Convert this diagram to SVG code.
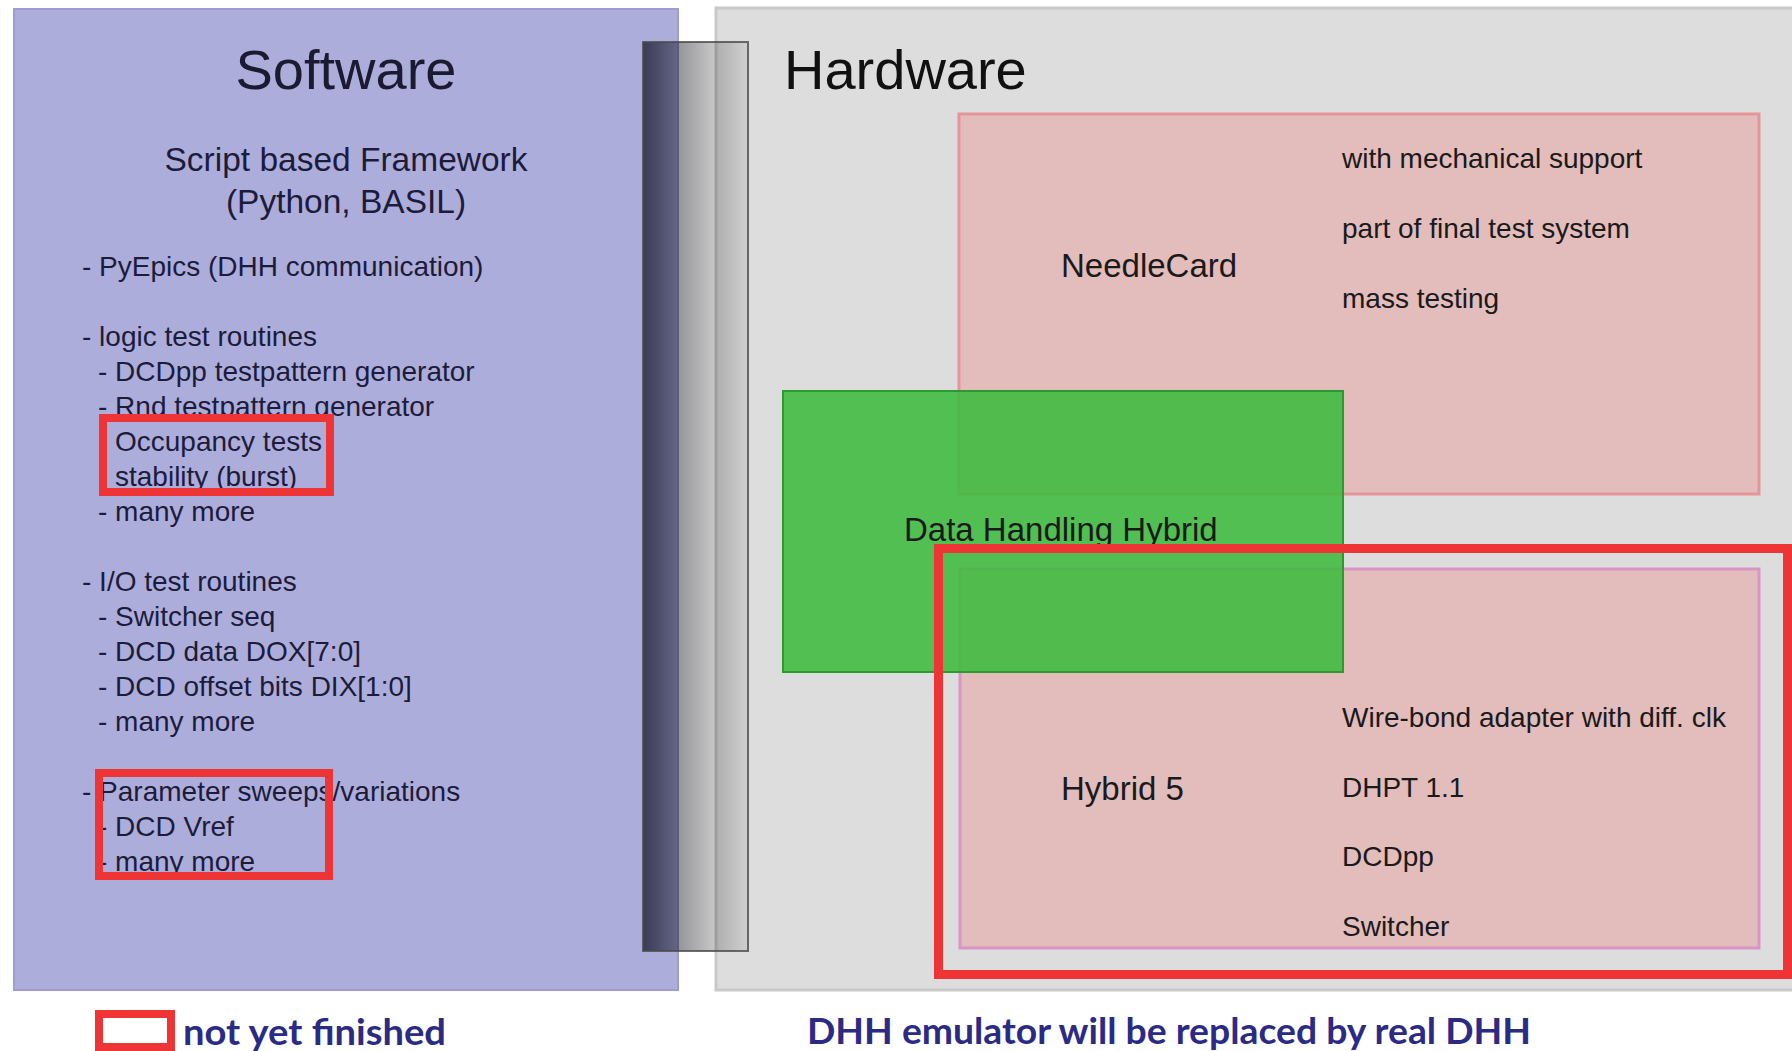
<svg xmlns="http://www.w3.org/2000/svg" width="1792" height="1051" viewBox="0 0 1792 1051">
  <defs>
    <linearGradient id="barShade" x1="0" y1="0" x2="1" y2="0">
      <stop offset="0" stop-color="#000010" stop-opacity="0.66"/>
      <stop offset="0.33" stop-color="#000010" stop-opacity="0.42"/>
      <stop offset="0.68" stop-color="#000000" stop-opacity="0.22"/>
      <stop offset="1" stop-color="#000000" stop-opacity="0.06"/>
    </linearGradient>
    <style>
      .sans { font-family: "Liberation Sans", Arial, Helvetica, sans-serif; }
      .title { font-size: 56px; }
      .sub { font-size: 33.5px; }
      .item { font-size: 28px; fill: #1c1c3a; }
      .hw { font-size: 28px; fill: #1a1a1a; }
      .label { font-size: 33px; fill: #1a1a1a; }
      .todo { fill: none; stroke: #ee3434; stroke-width: 8; }
      .card { fill: #e3bcbc; stroke-width: 3; }
      .note { font-family: Lato, "Liberation Sans", sans-serif; font-weight: 700; font-size: 36px; fill: #2b2b85; }
    </style>
  </defs>

  <rect width="1792" height="1051" fill="#ffffff"/>

  <!-- software column -->
  <g id="software" class="sans">
    <rect x="14" y="9" width="664" height="981" fill="#adaddc" stroke="#9c9cce" stroke-width="2"/>
    <text x="346" y="89" text-anchor="middle" class="title" fill="#1a1a30">Software</text>
    <text x="346" y="171" text-anchor="middle" class="sub" fill="#1c1c3a">Script based Framework</text>
    <text x="346" y="213" text-anchor="middle" class="sub" fill="#1c1c3a">(Python, BASIL)</text>
    <text x="82" y="276" class="item">- PyEpics (DHH communication)</text>
    <text x="82" y="346" class="item">- logic test routines</text>
    <text x="98" y="381" class="item">- DCDpp testpattern generator</text>
    <text x="98" y="416" class="item">- Rnd testpattern generator</text>
    <text x="115" y="451" class="item">Occupancy tests</text>
    <text x="115" y="486" class="item">stability (burst)</text>
    <text x="98" y="521" class="item">- many more</text>
    <text x="82" y="591" class="item">- I/O test routines</text>
    <text x="98" y="626" class="item">- Switcher seq</text>
    <text x="98" y="661" class="item">- DCD data DOX[7:0]</text>
    <text x="98" y="696" class="item">- DCD offset bits DIX[1:0]</text>
    <text x="98" y="731" class="item">- many more</text>
    <text x="82" y="801" class="item">- Parameter sweeps/variations</text>
    <text x="98" y="836" class="item">- DCD Vref</text>
    <text x="98" y="871" class="item">- many more</text>
    <!-- unfinished items -->
    <rect x="103" y="418" width="227" height="74" class="todo"/>
    <rect x="99" y="773" width="230" height="103" class="todo"/>
  </g>

  <!-- hardware column -->
  <g id="hardware" class="sans">
    <rect x="716" y="8" width="1090" height="982" fill="#dddddd" stroke="#c9c9c9" stroke-width="3"/>
    <text x="784" y="89" font-size="56" fill="#111111">Hardware</text>
  </g>

  <g id="needlecard" class="sans">
    <rect x="959" y="114" width="800" height="380" class="card" stroke="#e5959a"/>
    <text x="1061" y="277" class="label">NeedleCard</text>
    <text x="1342" y="168" class="hw">with mechanical support</text>
    <text x="1342" y="238" class="hw">part of final test system</text>
    <text x="1342" y="308" class="hw">mass testing</text>
  </g>

  <g id="hybrid5" class="sans">
    <rect x="960" y="569" width="799" height="379" class="card" stroke="#d995c5"/>
    <text x="1061" y="800" class="label">Hybrid 5</text>
    <text x="1342" y="727" class="hw">Wire-bond adapter with diff. clk</text>
    <text x="1342" y="797" class="hw">DHPT 1.1</text>
    <text x="1342" y="866" class="hw">DCDpp</text>
    <text x="1342" y="936" class="hw">Switcher</text>
  </g>

  <g id="dhh" class="sans">
    <rect x="783" y="391" width="560" height="281" fill="#3dbb3d" fill-opacity="0.88" stroke="#2d9a2d" stroke-width="2"/>
    <text x="904" y="541" class="label" fill="#142814">Data Handling Hybrid</text>
  </g>

  <!-- emulator part that is still to be replaced -->
  <g id="emulator-mark">
    <rect x="938.5" y="548.5" width="849" height="426" fill="none" stroke="#ee3434" stroke-width="9"/>
  </g>

  <!-- interface bar between the two columns -->
  <g id="interface">
    <rect x="643" y="42" width="105" height="909" fill="url(#barShade)" stroke="#4a4a4a" stroke-opacity="0.8" stroke-width="2"/>
  </g>

  <!-- legend and remark -->
  <g id="legend">
    <rect x="99" y="1014" width="72" height="33" class="todo"/>
    <text x="183" y="1045" class="note" textLength="263" lengthAdjust="spacingAndGlyphs">not yet finished</text>
  </g>
  <g id="remark">
    <text x="807" y="1044" class="note" textLength="724" lengthAdjust="spacingAndGlyphs">DHH emulator will be replaced by real DHH</text>
  </g>
</svg>
